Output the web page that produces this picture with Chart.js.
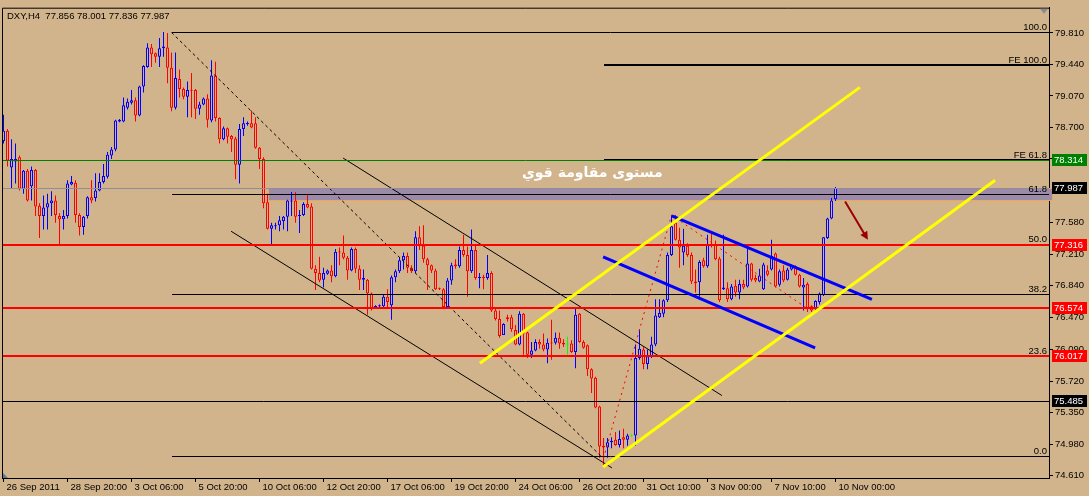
<!DOCTYPE html>
<html><head><meta charset="utf-8">
<script src="https://cdn.jsdelivr.net/npm/chart.js@4.4.1/dist/chart.umd.min.js"></script>
<style>html,body{margin:0;padding:0;background:#D2B48C;overflow:hidden}canvas{display:block}</style>
</head><body>
<canvas id="c" width="1089" height="496"></canvas>
<script>
// ---------- data ----------
const symbolTitle = 'DXY,H4';
const opens = [
78.54,78.66,78.23,78.30,78.35,77.98,78.19,78.01,78.20,77.78,
77.66,77.76,77.81,77.84,77.66,77.62,77.66,78.03,78.05,77.67,
77.53,77.66,77.88,77.87,77.96,78.06,78.12,78.37,78.44,78.77,
78.77,78.93,78.99,79.02,78.84,79.18,79.41,79.64,79.57,79.53,
79.63,79.64,79.40,78.93,79.27,79.15,79.06,79.14,79.14,78.92,
78.97,79.04,78.78,79.31,78.81,78.56,78.69,78.60,78.57,78.26,
78.68,78.74,78.75,78.75,78.46,78.33,77.82,77.51,77.54,77.55,
77.60,77.65,77.83,77.84,77.66,77.67,77.80,77.77,77.04,76.99,
76.91,76.98,77.02,76.95,77.24,77.23,77.17,77.02,77.27,77.04,
76.91,76.91,76.75,76.59,76.60,76.60,76.71,76.61,76.94,77.01,
77.14,77.19,77.05,77.01,77.41,77.31,77.15,77.08,77.02,76.81,
76.80,76.59,76.90,77.09,77.07,77.26,77.20,77.01,77.26,76.93,
76.94,76.93,76.99,76.55,76.45,76.26,76.47,76.47,76.32,76.15,
76.51,76.29,76.03,76.08,76.18,76.15,76.09,76.17,76.17,76.23,
76.17,76.15,76.16,76.06,76.51,76.18,76.14,75.86,75.76,75.42,
74.96,74.94,75.00,75.03,74.97,75.06,75.03,75.08,75.08,75.99,
76.09,75.92,76.01,76.15,76.47,76.51,76.67,77.20,77.58,77.38,
77.23,77.31,77.20,76.89,76.88,77.14,77.07,77.33,77.33,77.16,
76.80,76.81,76.68,76.84,76.76,76.86,76.83,77.10,76.93,76.89,
76.80,77.02,77.03,77.22,76.85,77.02,76.91,77.03,77.07,76.97,
76.82,76.86,76.60,76.57,76.65,76.73,77.40,77.63,77.856];
const highs = [
78.85,78.68,78.56,78.51,78.37,78.20,78.21,78.24,78.21,77.81,
77.90,77.92,77.95,77.90,77.69,77.73,78.08,78.13,78.08,77.69,
77.66,77.89,78.08,78.16,78.16,78.27,78.41,78.47,78.79,78.80,
79.05,79.04,79.14,79.05,79.19,79.43,79.69,79.68,79.58,79.75,
79.82,79.81,79.58,79.58,79.38,79.17,79.24,79.34,79.15,79.00,
79.05,79.09,79.49,79.47,78.82,78.71,78.70,78.61,78.59,78.74,
78.82,78.77,78.90,78.82,78.47,78.35,77.92,77.58,77.58,77.66,
77.66,77.85,77.94,77.94,77.73,77.82,77.92,77.81,77.08,77.18,
77.05,77.03,77.08,77.27,77.29,77.43,77.19,77.29,77.29,77.08,
77.03,76.92,76.76,76.61,76.62,76.73,76.80,76.96,77.03,77.17,
77.23,77.23,77.08,77.48,77.54,77.55,77.17,77.09,77.04,76.82,
76.81,76.93,77.11,77.15,77.30,77.44,77.30,77.50,77.31,76.99,
76.97,77.20,77.01,76.58,76.55,76.40,76.50,76.50,76.38,76.54,
76.52,76.30,76.18,76.21,76.21,76.28,76.22,76.44,76.29,76.29,
76.21,76.24,76.20,76.57,76.52,76.20,76.15,75.87,75.77,75.43,
75.05,75.05,75.06,75.12,75.14,75.16,75.10,75.09,76.15,76.33,
76.13,76.09,76.24,76.68,76.68,76.68,77.23,77.67,77.67,77.52,
77.51,77.34,77.23,77.03,77.14,77.17,77.44,77.46,77.37,77.18,
77.44,76.88,76.86,76.91,76.91,76.91,77.29,77.11,76.97,77.04,
77.11,77.08,77.38,77.23,77.03,77.08,77.05,77.09,77.08,76.98,
76.93,76.88,76.61,76.67,76.76,77.41,77.64,77.87,78.001];
const lows = [
78.51,78.24,77.98,78.04,77.96,77.92,77.83,77.84,77.66,77.40,
77.50,77.50,77.66,77.58,77.31,77.50,77.63,78.02,77.58,77.43,
77.44,77.63,77.81,77.83,77.95,78.04,78.10,78.33,78.42,78.76,
78.76,78.91,78.97,78.77,78.83,79.11,79.40,79.41,79.46,79.41,
79.53,79.22,78.89,78.91,79.05,79.03,78.82,78.82,78.80,78.85,
78.96,78.70,78.76,78.77,78.51,78.55,78.51,78.41,78.09,78.04,
78.60,78.72,78.69,78.45,78.21,77.75,77.50,77.32,77.50,77.48,
77.50,77.48,77.66,77.58,77.46,77.66,77.75,77.03,76.79,76.88,
76.82,76.97,76.88,76.94,77.08,77.15,76.91,77.01,76.99,76.79,
76.79,76.50,76.55,76.57,76.57,76.57,76.58,76.44,76.88,76.99,
77.03,76.99,76.99,76.99,77.26,77.11,76.79,76.99,76.79,76.79,
76.58,76.58,76.85,77.04,77.05,77.18,76.71,76.99,76.91,76.81,
76.80,76.91,76.53,76.43,76.23,76.26,76.42,76.30,76.14,76.14,
76.03,75.99,75.99,76.07,76.10,76.07,75.93,75.97,76.15,76.10,
76.12,76.03,76.05,75.87,76.17,76.10,75.78,75.58,75.40,74.82,
74.73,74.82,74.93,74.96,74.94,74.93,74.96,75.07,74.96,75.97,
75.86,75.86,75.99,76.13,76.46,76.47,76.65,77.19,77.37,77.05,
77.08,77.18,76.86,76.76,76.71,77.05,77.05,77.29,77.14,76.65,
76.79,76.65,76.67,76.71,76.68,76.80,76.82,76.89,76.88,76.88,
76.79,76.95,77.02,76.82,76.83,76.88,76.90,77.02,76.96,76.82,
76.55,76.53,76.53,76.55,76.62,76.72,77.39,77.62,77.836];
const closes = [
78.66,78.31,78.33,78.33,77.98,78.19,77.84,78.20,77.77,77.66,
77.76,77.81,77.84,77.67,77.62,77.66,78.04,78.06,77.67,77.53,
77.65,77.88,77.84,77.96,78.06,78.13,78.38,78.44,78.78,78.79,
78.96,79.00,79.02,78.84,79.18,79.42,79.64,79.56,79.53,79.63,
79.65,79.40,78.93,79.28,79.15,79.06,79.14,79.13,78.92,78.97,
79.04,78.79,79.31,78.81,78.56,78.69,78.59,78.56,78.26,78.68,
78.75,78.75,78.70,78.46,78.33,77.81,77.51,77.55,77.55,77.61,
77.65,77.84,77.84,77.65,77.67,77.80,77.76,77.04,76.99,76.90,
76.99,77.02,76.95,77.24,77.23,77.17,77.02,77.27,77.04,76.91,
76.93,76.75,76.57,76.60,76.61,76.71,76.65,76.94,77.01,77.14,
77.19,77.05,77.01,77.41,77.31,77.15,77.08,77.02,76.80,76.80,
76.59,76.90,77.08,77.07,77.26,77.20,77.01,77.26,76.93,76.94,
76.93,76.99,76.55,76.45,76.25,76.39,76.45,76.33,76.15,76.51,
76.28,76.03,76.08,76.18,76.15,76.09,76.17,76.16,76.23,76.16,
76.15,76.15,76.06,76.50,76.18,76.11,75.86,75.75,75.41,74.95,
74.94,75.00,75.02,74.97,75.04,75.03,75.08,75.08,75.99,76.10,
75.92,76.01,76.15,76.49,76.52,76.67,77.20,77.54,77.38,77.29,
77.31,77.20,76.89,76.87,77.12,77.07,77.33,77.31,77.15,76.67,
76.82,76.68,76.83,76.76,76.86,76.82,77.10,76.91,76.90,76.96,
77.09,76.97,77.19,76.83,77.01,76.90,77.03,77.08,76.97,76.83,
76.85,76.57,76.55,76.66,76.75,77.41,77.63,77.84,77.987];

const dateLabels = ['26 Sep 2011','28 Sep 20:00','3 Oct 06:00','5 Oct 20:00','10 Oct 06:00','12 Oct 20:00',
  '17 Oct 06:00','19 Oct 20:00','24 Oct 06:00','26 Oct 20:00','31 Oct 10:00','3 Nov 00:00','7 Nov 10:00','10 Nov 00:00'];
const dateLabelBars = [0,16,32,48,64,80,96,112,128,144,160,176,192,208];
const priceTicks = [74.610,74.980,75.350,75.720,76.090,76.470,76.840,77.210,77.580,77.950,78.330,78.700,79.070,79.440,79.810];

// Fibonacci retracement (anchor bars and prices)
const fibStartBar = 42, fibEndBar = 149.4;
const fibHigh = 79.816, fibLow = 74.836;
const fibRatios = [100.0, 61.8, 50.0, 38.2, 23.6, 0.0];
// Fibonacci expansion
const feStartBar = 150;
const feNames = ['FE 100.0','FE 61.8'];
const feValues = [79.43, 78.314];
const feZigzagBars = [150, 167, 201];
const feZigzagPrices = [74.81, 77.67, 76.57];
// horizontal price levels
const redLevels = [77.316, 76.574, 76.017];
const bidPrice = 77.987;
const supportLevel = 75.485;
// resistance zone
const zoneBars = [66, 262.4];
const zonePrices = [77.84, 77.99];
// trend lines [bar, price]
const blackChannelUpper = [[84.9, 78.34], [179.6, 75.55]];
const blackChannelLower = [[56.9, 77.48], [152.1, 74.70]];
const yellowChannelUpper = [[119.1, 75.93], [214.1, 79.17]];
const yellowChannelLower = [[149.9, 74.71], [247.9, 78.08]];
const blueChannelUpper = [[167.1, 77.66], [217.1, 76.68]];
const blueChannelLower = [[149.9, 77.18], [202.9, 76.11]];
const arrowLine = [[210.4, 77.83], [216.1, 77.38]];
// annotation text
const noteText = 'مستوى مقاومة قوي';
const noteBar = 147.2, notePrice = 78.16;

// ---------- style ----------
const BG = '#D2B48C';
const BULL = '#0000FF', BEAR = '#FF0000', DOJI = '#00FF00';
const FONT_FAMILY = "'Liberation Sans', Arial, sans-serif";
const FONT = {family: FONT_FAMILY, size: 9.5};

const N = opens.length;
const candleColor = i => closes[i] > opens[i] ? BULL : (closes[i] < opens[i] ? BEAR : DOJI);
const wickData = opens.map((o, i) => ({x: i, y: [lows[i], highs[i]]}));
const bodyData = opens.map((o, i) => ({x: i, y: [Math.min(o, closes[i]), Math.max(o, closes[i])]}));

function crisp(v, w) { return (w % 2 === 1) ? Math.round(v - 0.5) + 0.5 : Math.round(v); }

const overlay = {
  id: 'overlay',
  beforeDraw(ch) {
    const c = ch.ctx;
    c.save(); c.fillStyle = BG; c.fillRect(0, 0, ch.width, ch.height); c.restore();
  },
  beforeDatasetsDraw(ch) {
    const c = ch.ctx, X = ch.scales.x, Y = ch.scales.y;
    const x0 = Math.round(X.getPixelForValue(zoneBars[0])), x1 = Math.round(X.getPixelForValue(zoneBars[1]));
    const y0 = Math.round(Y.getPixelForValue(zonePrices[1])), y1 = Math.round(Y.getPixelForValue(zonePrices[0]));
    c.save();
    c.fillStyle = '#9c8aa8';
    c.fillRect(x0, y0, x1 - x0, y1 - y0);
    c.strokeStyle = '#e8a860'; c.lineWidth = 1;
    c.strokeRect(x0 + 0.5, y0 + 0.5, x1 - x0 - 1, y1 - y0 - 1);
    c.restore();
  },
  afterDatasetsDraw(ch) {
    const c = ch.ctx, X = ch.scales.x, Y = ch.scales.y, ca = ch.chartArea;
    const px = b => X.getPixelForValue(b), py = p => Y.getPixelForValue(p);
    c.save();
    c.beginPath(); c.rect(ca.left, ca.top, ca.right - ca.left, ca.bottom - ca.top); c.clip();
    const hl = (price, fromBar, color, w) => {
      const y = crisp(py(price), w);
      const x0 = fromBar == null ? ca.left : Math.round(px(fromBar));
      c.strokeStyle = color; c.lineWidth = w; c.setLineDash([]);
      c.beginPath(); c.moveTo(x0, y); c.lineTo(ca.right, y); c.stroke();
    };
    const seg = (pts, color, w, dash) => {
      c.strokeStyle = color; c.lineWidth = w; c.setLineDash(dash || []);
      c.beginPath();
      pts.forEach((p, k) => { const xx = px(p[0]), yy = py(p[1]); if (k) c.lineTo(xx, yy); else c.moveTo(xx, yy); });
      c.stroke(); c.setLineDash([]);
    };
    // fib retracement levels
    fibRatios.forEach(r => hl(fibLow + (fibHigh - fibLow) * r / 100, fibStartBar, '#000', 1));
    seg([[fibStartBar, fibHigh], [fibEndBar, fibLow]], '#000', 1, [3, 3]);
    // black channel
    seg(blackChannelUpper, '#000', 1);
    seg(blackChannelLower, '#000', 1);
    // fib expansion
    hl(feValues[0], feStartBar, '#000', 2);
    hl(feValues[1], feStartBar, '#000', 2);
    hl(feValues[1], null, '#008000', 1);
    seg(feZigzagBars.map((b, k) => [b, feZigzagPrices[k]]), '#FF0000', 1, [2, 4]);
    // other levels
    hl(bidPrice, null, '#8e8e96', 1);
    hl(supportLevel, null, '#000', 1);
    redLevels.forEach(v => hl(v, null, '#FF0000', 2));
    // channels
    seg(blueChannelUpper, '#0000FF', 3);
    seg(blueChannelLower, '#0000FF', 3);
    seg(yellowChannelUpper, '#FFFF00', 3);
    seg(yellowChannelLower, '#FFFF00', 3);
    // arrow
    const a0 = [px(arrowLine[0][0]), py(arrowLine[0][1])], a1 = [px(arrowLine[1][0]), py(arrowLine[1][1])];
    const ang = Math.atan2(a1[1] - a0[1], a1[0] - a0[0]);
    c.strokeStyle = '#9b0000'; c.fillStyle = '#9b0000'; c.lineWidth = 2;
    c.beginPath(); c.moveTo(a0[0], a0[1]); c.lineTo(a1[0] - 5 * Math.cos(ang), a1[1] - 5 * Math.sin(ang)); c.stroke();
    c.beginPath(); c.moveTo(a1[0], a1[1]);
    c.lineTo(a1[0] - 8 * Math.cos(ang) + 4 * Math.sin(ang), a1[1] - 8 * Math.sin(ang) - 4 * Math.cos(ang));
    c.lineTo(a1[0] - 8 * Math.cos(ang) - 4 * Math.sin(ang), a1[1] - 8 * Math.sin(ang) + 4 * Math.cos(ang));
    c.closePath(); c.fill();
    c.restore();
  },
  afterDraw(ch) {
    const c = ch.ctx, X = ch.scales.x, Y = ch.scales.y, ca = ch.chartArea;
    const px = b => X.getPixelForValue(b), py = p => Y.getPixelForValue(p);
    c.save();
    // frame (left/top)
    c.strokeStyle = '#000'; c.lineWidth = 1;
    c.beginPath(); c.moveTo(ca.left + 0.5, ca.bottom); c.lineTo(ca.left + 0.5, ca.top + 0.5); c.lineTo(ca.right, ca.top + 0.5); c.stroke();
    // level labels
    c.font = `${FONT.size}px ${FONT_FAMILY}`; c.fillStyle = '#000';
    c.textAlign = 'right'; c.textBaseline = 'alphabetic';
    fibRatios.forEach(r => {
      const y = py(fibLow + (fibHigh - fibLow) * r / 100);
      c.fillText(r.toFixed(1), ca.right - 2, Math.round(y) - 2);
    });
    feNames.forEach((n, k) => c.fillText(n, ca.right - 2, Math.round(py(feValues[k])) - 2));
    // header
    c.textAlign = 'left'; c.textBaseline = 'middle';
    const L = N - 1;
    c.fillText(`${symbolTitle}  ${opens[L].toFixed(3)} ${highs[L].toFixed(3)} ${lows[L].toFixed(3)} ${closes[L].toFixed(3)}`, ca.left + 5, ca.top + 9);
    // annotation
    c.font = `bold 14px 'DejaVu Sans', sans-serif`; c.fillStyle = '#FFFFFF'; c.textAlign = 'center'; c.textBaseline = 'middle';
    c.fillText(noteText, px(noteBar), py(notePrice));
    // price boxes on the axis
    const boxes = [[feValues[1], '#008000'], [bidPrice, '#000000'], [redLevels[0], '#FF0000'], [redLevels[1], '#FF0000'], [redLevels[2], '#FF0000'], [supportLevel, '#000000']];
    c.font = `${FONT.size}px ${FONT_FAMILY}`; c.textAlign = 'left'; c.textBaseline = 'middle';
    boxes.forEach(([v, col]) => {
      const y = Math.round(py(v));
      c.fillStyle = col; c.fillRect(ca.right + 3, y - 6, 35, 12);
      c.fillStyle = '#FFFFFF'; c.fillText(v.toFixed(3), ca.right + 5, y + 0.5);
    });
    // shift marker and corner marker
    c.fillStyle = '#8a8a8a';
    c.beginPath(); c.moveTo(ca.right - 9, ca.top + 1); c.lineTo(ca.right - 1, ca.top + 1); c.lineTo(ca.right - 5, ca.top + 6); c.closePath(); c.fill();
    c.fillStyle = '#5a7a9a';
    c.beginPath(); c.moveTo(ca.left + 1, ca.bottom - 5); c.lineTo(ca.left + 1, ca.bottom); c.lineTo(ca.left + 6, ca.bottom); c.closePath(); c.fill();
    c.restore();
  }
};

new Chart(document.getElementById('c'), {
  type: 'bar',
  data: {
    datasets: [
      {label: 'body', data: bodyData, order: 0, grouped: false, barThickness: 3, minBarLength: 1,
       inflateAmount: 0, backgroundColor: BG, borderColor: ctx => candleColor(ctx.dataIndex), borderWidth: 1, borderSkipped: false},
      {label: 'wick', data: wickData, order: 1, grouped: false, barThickness: 1, minBarLength: 1,
       inflateAmount: 0, backgroundColor: ctx => candleColor(ctx.dataIndex), borderWidth: 0}
    ]
  },
  options: {
    responsive: false, animation: false, devicePixelRatio: 1,
    layout: {padding: {left: 2, top: 2, right: 0, bottom: 0}},
    plugins: {legend: {display: false}, tooltip: {enabled: false}},
    scales: {
      x: {
        type: 'linear', position: 'bottom', min: -0.375, max: 261.375, offset: false,
        afterBuildTicks: s => { s.ticks = dateLabelBars.map(v => ({value: v})); },
        afterFit: s => { s.height = 18; },
        ticks: {autoSkip: false, maxRotation: 0, minRotation: 0, align: 'start', labelOffset: 3, padding: 0,
                color: '#000', font: FONT, callback: (v, i) => dateLabels[i]},
        grid: {drawOnChartArea: false, drawTicks: true, tickLength: 4, color: '#000', offset: false},
        border: {display: true, color: '#000', width: 1}
      },
      y: {
        type: 'linear', position: 'right', min: 74.581, max: 80.1064,
        afterBuildTicks: s => { s.ticks = priceTicks.map(v => ({value: v})); },
        afterFit: s => { s.width = 40; },
        ticks: {padding: 2, color: '#000', font: FONT, callback: v => v.toFixed(3)},
        grid: {drawOnChartArea: false, drawTicks: true, tickLength: 4, color: '#000'},
        border: {display: true, color: '#000', width: 1}
      }
    }
  },
  plugins: [overlay]
});
</script>
</body></html>
